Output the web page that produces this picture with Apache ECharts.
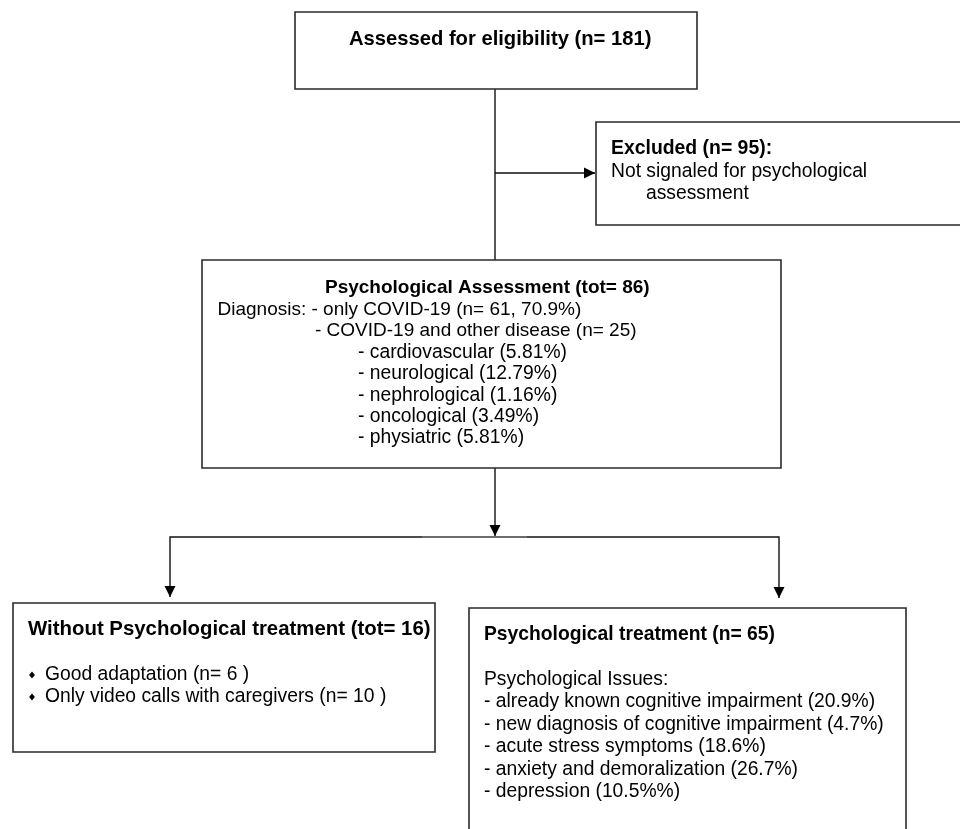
<!DOCTYPE html>
<html>
<head>
<meta charset="utf-8">
<script src="https://cdn.jsdelivr.net/npm/echarts@6/dist/echarts.min.js"></script>
<style>
  html, body { margin: 0; padding: 0; background: #fff; }
  #chart { width: 960px; height: 829px; }
</style>
</head>
<body>
<div id="chart"></div>
<script>
// ---- Text content (data) ----
const eligibilityTitle = 'Assessed for eligibility (n= 181)';
const excludedTitle = 'Excluded (n= 95):';
const excludedLines = ['Not signaled for psychological', 'assessment'];
const assessmentTitle = 'Psychological Assessment (tot= 86)';
const diagnosisLines = ['Diagnosis: - only COVID-19 (n= 61, 70.9%)', '- COVID-19 and other disease (n= 25)'];
const comorbidityLines = ['- cardiovascular (5.81%)', '- neurological (12.79%)', '- nephrological (1.16%)', '- oncological (3.49%)', '- physiatric (5.81%)'];
const noTreatmentTitle = 'Without Psychological treatment (tot= 16)';
const noTreatmentBullets = ['Good adaptation (n= 6 )', 'Only video calls with caregivers (n= 10 )'];
const treatmentTitle = 'Psychological treatment (n= 65)';
const issuesHeader = 'Psychological Issues:';
const issuesLines = ['- already known cognitive impairment (20.9%)', '- new diagnosis of cognitive impairment (4.7%)', '- acute stress symptoms (18.6%)', '- anxiety and demoralization (26.7%)', '- depression (10.5%%)'];

// ---- Layout (positions in a 960 x 829 coordinate space) ----
const FONT = '"Liberation Sans", Arial, Helvetica, sans-serif';
const reg = s => s + 'px ' + FONT;
const bold = s => 'bold ' + s + 'px ' + FONT;

function lines(arr, x, y0, dy, font) {
  return arr.map((t, i) => ({ t: t, x: x, y: y0 + i * dy, font: font }));
}

const boxes = [
  { x0: 295, y0: 12, x1: 697, y1: 89,
    texts: [{ t: eligibilityTitle, x: 349, y: 39, font: bold(20.2) }] },
  { x0: 596, y0: 122, x1: 966, y1: 225,
    texts: [{ t: excludedTitle, x: 611, y: 149, font: bold(19.4) },
            { t: excludedLines[0], x: 611, y: 172, font: reg(19.3) },
            { t: excludedLines[1], x: 646, y: 193.5, font: reg(19.3) }] },
  { x0: 202, y0: 260, x1: 781, y1: 468,
    texts: [{ t: assessmentTitle, x: 325, y: 288, font: bold(19) },
            { t: diagnosisLines[0], x: 217.5, y: 309.5, font: reg(19) },
            { t: diagnosisLines[1], x: 315, y: 331, font: reg(19) }]
            .concat(lines(comorbidityLines, 358, 352.5, 21.4, reg(19.3))) },
  { x0: 13, y0: 603, x1: 435, y1: 752,
    texts: [{ t: noTreatmentTitle, x: 28, y: 629, font: bold(20.4) }]
            .concat(lines(noTreatmentBullets, 45, 675, 22, reg(19.3))),
    bullets: [{ x: 32, y: 675 }, { x: 32, y: 697 }] },
  { x0: 469, y0: 608, x1: 906, y1: 840,
    texts: [{ t: treatmentTitle, x: 484, y: 635, font: bold(19.3) },
            { t: issuesHeader, x: 484, y: 680, font: reg(19.3) }]
            .concat(lines(issuesLines, 484, 702, 22.5, reg(19.3))) }
];

const connectors = [
  { pts: [[495, 89], [495, 260]] },
  { pts: [[495, 173], [595, 173]], arrow: 'right' },
  { pts: [[495, 468], [495, 536]], arrow: 'down' },
  { pts: [[170, 597], [170, 537], [779, 537], [779, 598]], arrowStart: 'down', arrow: 'down' }
];

const chart = echarts.init(document.getElementById('chart'), null, { renderer: 'canvas' });

function arrowHead(api, tip, dir) {
  const L = 11, W = 5.5;
  let p;
  if (dir === 'right') p = [[tip[0], tip[1]], [tip[0] - L, tip[1] - W], [tip[0] - L, tip[1] + W]];
  else p = [[tip[0], tip[1]], [tip[0] - W, tip[1] - L], [tip[0] + W, tip[1] - L]];
  return { type: 'polygon', shape: { points: p.map(q => api.coord(q)) }, style: { fill: '#000' } };
}

const option = {
  animation: false,
  grid: { left: 0, right: 0, top: 0, bottom: 0 },
  xAxis: { type: 'value', min: 0, max: 960, show: false },
  yAxis: { type: 'value', min: 0, max: 829, inverse: true, show: false },
  series: [
    {
      type: 'custom',
      silent: true,
      clip: false,
      data: connectors.map(c => c.pts[0]),
      renderItem: function (params, api) {
        const c = connectors[params.dataIndex];
        const children = [{
          type: 'polyline',
          shape: { points: c.pts.map(p => api.coord(p)) },
          style: { stroke: '#111', lineWidth: 1.4, fill: null }
        }];
        if (c.arrow) children.push(arrowHead(api, c.pts[c.pts.length - 1], c.arrow));
        if (c.arrowStart) children.push(arrowHead(api, c.pts[0], c.arrowStart));
        return { type: 'group', children: children };
      }
    },
    {
      type: 'custom',
      silent: true,
      clip: false,
      data: [[422, 537]],
      renderItem: function (params, api) {
        const a = api.coord([422, 537]), b = api.coord([527, 537]);
        return { type: 'line', shape: { x1: a[0], y1: a[1], x2: b[0], y2: b[1] },
                 style: { stroke: '#777', lineWidth: 1.6 } };
      }
    },
    {
      type: 'custom',
      silent: true,
      clip: false,
      data: boxes.map(b => [b.x0, b.y0]),
      renderItem: function (params, api) {
        const b = boxes[params.dataIndex];
        const p0 = api.coord([b.x0, b.y0]), p1 = api.coord([b.x1, b.y1]);
        const children = [{
          type: 'rect',
          shape: { x: p0[0], y: p0[1], width: p1[0] - p0[0], height: p1[1] - p0[1] },
          style: { fill: '#fff', stroke: '#2a2a2a', lineWidth: 1.6 }
        }];
        b.texts.forEach(tx => {
          const p = api.coord([tx.x, tx.y]);
          children.push({
            type: 'text',
            style: { text: tx.t, x: p[0], y: p[1], font: tx.font, fill: '#000', align: 'left', verticalAlign: 'middle' }
          });
        });
        (b.bullets || []).forEach(bl => {
          const s = 3.6;
          const pts = [[bl.x, bl.y - s], [bl.x + s * 0.8, bl.y], [bl.x, bl.y + s], [bl.x - s * 0.8, bl.y]];
          children.push({ type: 'polygon', shape: { points: pts.map(q => api.coord(q)) }, style: { fill: '#000' } });
        });
        return { type: 'group', children: children };
      }
    }
  ]
};
chart.setOption(option);
</script>
</body>
</html>
